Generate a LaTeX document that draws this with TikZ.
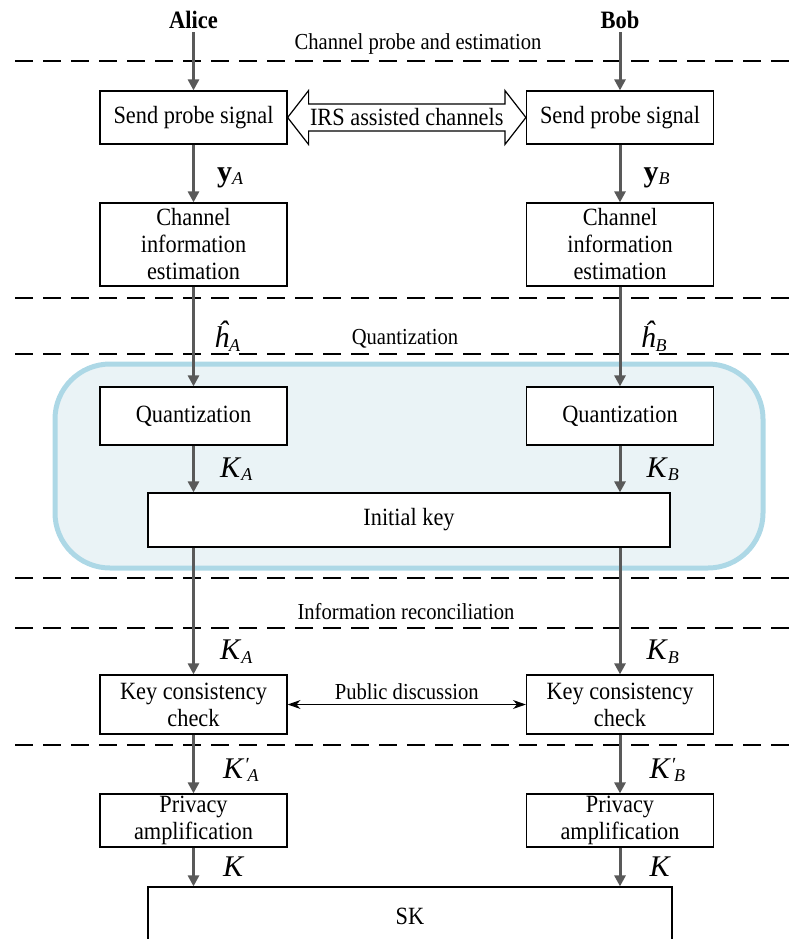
\documentclass[tikz,border=0pt]{standalone}
\usepackage{fontspec}
\setmainfont[FakeStretch=0.9]{Liberation Serif}
\newfontfamily\varfont{Liberation Serif}
\usetikzlibrary{arrows.meta,calc,positioning}
\definecolor{flowgray}{RGB}{89,89,89}
\definecolor{zoneline}{RGB}{173,216,230}
\definecolor{zonefill}{RGB}{234,243,246}
% variable labels: italic letter, small index
\newcommand{\idx}[1]{\raisebox{-3.5pt}{\fontsize{18}{18}\selectfont\itshape #1}}
\newcommand{\dsh}{\raisebox{7pt}{\fontsize{20}{20}\selectfont\itshape ′}\kern-1pt}

\begin{document}
\begin{tikzpicture}[
        x=1pt, y=-1pt,
        stage/.style={draw, line width=1.2pt, fill=white, minimum width=187pt,
            align=center, inner sep=0pt, font=\fontsize{24.8}{27}\selectfont},
        flow/.style={draw=flowgray, line width=3pt, -{Triangle[length=11pt,width=11pt]}},
        talk/.style={line width=1.3pt, {Stealth[length=13pt,width=9pt]}-{Stealth[length=13pt,width=9pt]}},
        cut/.style={line width=2pt, dash pattern=on 18pt off 10pt},
        phase/.style={font=\fontsize{22.9}{26}\selectfont},
        party/.style={font=\fontsize{25}{28}\selectfont\bfseries},
        var/.style={font=\varfont\fontsize{30}{33}\selectfont, anchor=west, inner sep=0pt, xshift=25pt},
        every node/.style={color=black}
    ]
    \useasboundingbox (0,0) rectangle (790,939);
    % quantization zone
    \draw[zoneline, line width=5pt, fill=zonefill, rounded corners=55pt] (55,364) rectangle (763,568);
    % phase borders
    \foreach \y in {61,298,354,578,628,745}
        \draw[cut] (15,\y) -- (790,\y);
    \node(chprobe)[phase] at (418,44) {Channel probe and estimation};
    \node(quantz)[phase] at (405,339) {Quantization};
    \node(inforec)[phase] at (406,612) {Information reconciliation};

    % parties
    \node(alice)[party] at (193.5,20) {Alice};
    \node(bob)[party] at (620,20) {Bob};

    % Alice side
    \node(sendA)[stage, minimum height=53pt] at (193.5,117.5) {Send probe signal};
    \node(estA)[stage, minimum height=83pt] at (193.5,244.5) {Channel\\information\\estimation};
    \node(quantA)[stage, minimum height=58pt] at (193.5,416) {Quantization};
    \node(checkA)[stage, minimum height=59pt] at (193.5,704.5) {Key consistency\\check};
    \node(privA)[stage, minimum height=53pt] at (193.5,820.5) {Privacy\\amplification};

    % Bob side
    \node(sendB)[stage, minimum height=53pt] at (620,117.5) {Send probe signal};
    \node(estB)[stage, minimum height=83pt] at (620,244.5) {Channel\\information\\estimation};
    \node(quantB)[stage, minimum height=58pt] at (620,416) {Quantization};
    \node(checkB)[stage, minimum height=59pt] at (620,704.5) {Key consistency\\check};
    \node(privB)[stage, minimum height=53pt] at (620,820.5) {Privacy\\amplification};

    % shared boxes
    \node(init)[stage, minimum width=522pt, minimum height=54pt] at (409,520) {Initial key};
    \node(sk)[stage, minimum width=524pt, minimum height=58pt] at (410,916) {SK};

    % IRS channel
    \draw[line width=1.2pt, fill=white] (sendA.east) -- ++(21,-27) -- ++(0,13.5)
        -- ($(sendB.west)+(-21,-13.5)$) -- ++(0,-13.5) -- (sendB.west) -- ++(-21,27)
        -- ++(0,-13.5) -- ($(sendA.east)+(21,13.5)$) -- ++(0,13.5) -- cycle;
    \node(irs)[font=\fontsize{24.8}{27}\selectfont] at ($(sendA.east)!0.5!(sendB.west)$) {IRS assisted channels};

    % flows
    \draw[flow] (alice) -- (sendA);
    \draw[flow] (bob) -- (sendB);
    \draw[flow] (sendA) -- node[var, xshift=-3pt, yshift=-4pt]{\textbf{y}\idx{A}} (estA);
    \draw[flow] (sendB) -- node[var, xshift=-3pt, yshift=-4pt]{\textbf{y}\idx{B}} (estB);
    \draw[flow] (estA) -- node[var, xshift=-6pt]{\textit{ĥ}\idx{A}} (quantA);
    \draw[flow] (estB) -- node[var, xshift=-6pt]{\textit{ĥ}\idx{B}} (quantB);
    \draw[flow] (quantA) -- node[var]{\textit{K}\idx{A}} (quantA |- init.north);
    \draw[flow] (quantB) -- node[var]{\textit{K}\idx{B}} (quantB |- init.north);
    \draw[flow] (init.south -| checkA) -- node[var, pos=0.82]{\textit{K}\idx{A}} (checkA);
    \draw[flow] (init.south -| checkB) -- node[var, pos=0.82]{\textit{K}\idx{B}} (checkB);
    \draw[flow] (checkA) -- node[var, pos=0.6, xshift=3pt]{\textit{K}\dsh\idx{A}} (privA);
    \draw[flow] (checkB) -- node[var, pos=0.6, xshift=3pt]{\textit{K}\dsh\idx{B}} (privB);
    \draw[flow] (privA) -- node[var, xshift=3pt]{\textit{K}} (privA |- sk.north);
    \draw[flow] (privB) -- node[var, xshift=3pt]{\textit{K}} (privB |- sk.north);

    % public discussion
    \draw[talk] (checkA) -- node[phase, above=1pt]{Public discussion} (checkB);
\end{tikzpicture}
\end{document}
